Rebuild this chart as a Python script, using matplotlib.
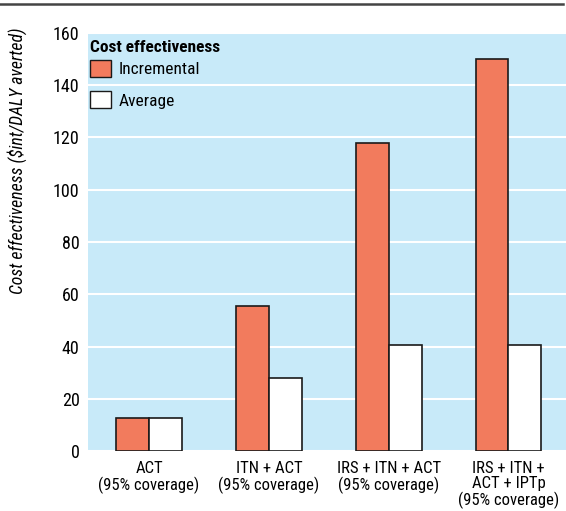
import matplotlib.pyplot as plt
import numpy as np
from matplotlib.patches import Patch
from matplotlib.lines import Line2D

categories = ['ACT\n(95% coverage)', 'ITN + ACT\n(95% coverage)',
              'IRS + ITN + ACT\n(95% coverage)', 'IRS + ITN +\nACT + IPTp\n(95% coverage)']
incremental = [12.5, 55.5, 118, 150]
average = [12.5, 28, 40.6, 40.6]
yticks = [0, 20, 40, 60, 80, 100, 120, 140, 160]

plt.rcParams['font.family'] = ['Roboto Condensed', 'Archivo Narrow', 'DejaVu Sans']

fig = plt.figure(figsize=(5.66, 5.11), dpi=100)
ax = fig.add_axes([88 / 566, 60 / 511, 1 - 88 / 566, 418 / 511])
ax.set_facecolor('#c8eaf9')

x = np.arange(len(categories))
w = 0.275
ax.bar(x - w / 2, incremental, w, color='#f27b5d', edgecolor='#1a1a1a', linewidth=1.2, zorder=3)
ax.bar(x + w / 2, average, w, color='white', edgecolor='#1a1a1a', linewidth=1.2, zorder=3)

ax.set_xlim(-0.51, 3.48)
ax.set_ylim(0, 160)
ax.set_yticks(yticks)
ax.yaxis.grid(True, color='white', linewidth=1.5, zorder=0)
ax.set_axisbelow(True)
ax.set_xticks(x)
ax.set_xticklabels(categories, linespacing=1.05)
ax.tick_params(axis='y', length=0, labelsize=13, pad=6)
ax.tick_params(axis='x', length=0, labelsize=12, pad=7)
for s in ax.spines.values():
    s.set_visible(False)

ax.set_ylabel('Cost effectiveness ($int/DALY averted)', fontstyle='italic', fontsize=12.8,
              rotation_mode='anchor')
ax.yaxis.set_label_coords(-0.149, 1.012)
ax.yaxis.label.set_ha('right')
ax.yaxis.label.set_va('center')

# legend title drawn separately so the gap to the entries matches
ax.text(0.004, 0.966, 'Cost effectiveness', transform=ax.transAxes, ha='left', va='center',
        fontsize=12.5, fontweight='bold', zorder=5)
handles = [Patch(facecolor='#f27b5d', edgecolor='#1a1a1a', linewidth=1.0),
           Patch(facecolor='white', edgecolor='#1a1a1a', linewidth=1.0)]
leg = ax.legend(handles, ['Incremental', 'Average'], loc='upper left', frameon=False,
                fontsize=12.5, handlelength=1.2, handleheight=1.1, borderaxespad=0, borderpad=0,
                labelspacing=0.8, handletextpad=0.45, bbox_to_anchor=(0.004, 0.935))

fig.add_artist(Line2D([0, 563 / 566], [1 - 4 / 511, 1 - 4 / 511], color='#444444', linewidth=1.8))

fig.savefig('out.png', dpi=100)
